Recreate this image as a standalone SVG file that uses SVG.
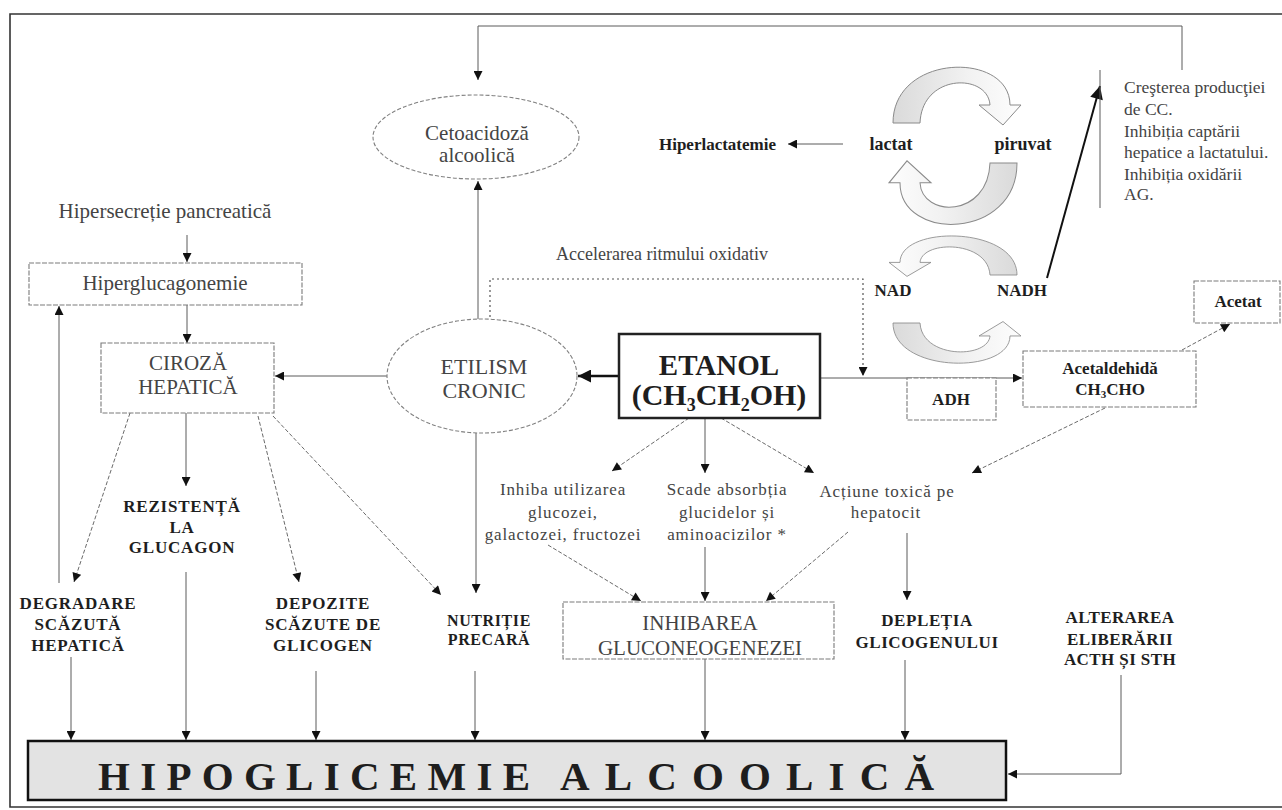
<svg xmlns="http://www.w3.org/2000/svg" width="1282" height="810" viewBox="0 0 1282 810">
<style>
.t{font-family:"Liberation Serif","Times New Roman",serif;fill:#444;text-anchor:middle}
.b{font-family:"Liberation Serif","Times New Roman",serif;font-weight:bold;fill:#1e1e1e;text-anchor:middle}
.bx{fill:#fff;stroke:#7a7a7a;stroke-width:1.1;stroke-dasharray:5 1.5}
.el{fill:#fff;stroke:#808080;stroke-width:1.1;stroke-dasharray:4 2}
.c{fill:none;stroke:#5a5a5a;stroke-width:1}
.cd{fill:none;stroke:#6a6a6a;stroke-width:1;stroke-dasharray:4 2}
.dot{fill:none;stroke:#555;stroke-width:1.2;stroke-dasharray:2 3}
.ca{fill:url(#g);stroke:#8a8a8a;stroke-width:1}
</style>
<defs>
<marker id="ah" viewBox="0 0 10 10" refX="10" refY="5" markerWidth="11" markerHeight="9" markerUnits="userSpaceOnUse" orient="auto"><path d="M0,0 L10,5 L0,10 z" fill="#111"/></marker>
<marker id="ahb" viewBox="0 0 10 10" refX="10" refY="5" markerWidth="16" markerHeight="13" markerUnits="userSpaceOnUse" orient="auto"><path d="M0,0 L10,5 L0,10 z" fill="#111"/></marker>
<linearGradient id="g" x1="0" y1="0" x2="1" y2="0"><stop offset="0" stop-color="#dadada"/><stop offset="0.6" stop-color="#f2f2f2"/><stop offset="1" stop-color="#fdfdfd"/></linearGradient>
<path id="carr" d="M-62,0 C-62,-70 55,-72 55,-18 L66,-18 L48,2 L24,-18 L35,-18 C33,-50 -33,-50 -35,0 Z"/>
</defs>
<rect width="1282" height="810" fill="#fff"/>
<path d="M1282,14 L10,14 L10,807 L1282,807" fill="none" stroke="#333" stroke-width="1.6"/>

<g id="connectors">
<polyline class="c" points="1182,70 1182,26 478,26 478,80" marker-end="url(#ah)"/>
<line class="c" x1="478" y1="320" x2="478" y2="181" marker-end="url(#ah)"/>
<line class="c" x1="187" y1="235" x2="187" y2="262" marker-end="url(#ah)"/>
<line class="c" x1="187" y1="305" x2="187" y2="343" marker-end="url(#ah)"/>
<line class="c" x1="388" y1="376" x2="275" y2="376" marker-end="url(#ah)"/>
<line x1="619" y1="376" x2="578" y2="376" stroke="#111" stroke-width="2.5" marker-end="url(#ahb)"/>
<line class="c" x1="820" y1="378" x2="1022" y2="378" marker-end="url(#ah)"/>
<polyline class="dot" points="490,322 490,279 863,279 863,376" marker-end="url(#ah)"/>
<line x1="1047" y1="278" x2="1100" y2="86" stroke="#111" stroke-width="2" marker-end="url(#ahb)"/>
<line class="c" x1="1100" y1="70" x2="1100" y2="208"/>
<line class="c" x1="843" y1="144" x2="788" y2="144" marker-end="url(#ah)"/>
<line class="cd" x1="1182" y1="350" x2="1230" y2="324" marker-end="url(#ah)"/>
<line class="cd" x1="1105" y1="408" x2="972" y2="473" marker-end="url(#ah)"/>
<line class="cd" x1="689" y1="418" x2="612" y2="471" marker-end="url(#ah)"/>
<line class="c" x1="705" y1="418" x2="705" y2="473" marker-end="url(#ah)"/>
<line class="cd" x1="721" y1="418" x2="814" y2="473" marker-end="url(#ah)"/>
<line class="cd" x1="548" y1="545" x2="641" y2="601" marker-end="url(#ah)"/>
<line class="c" x1="705" y1="547" x2="705" y2="601" marker-end="url(#ah)"/>
<line class="cd" x1="848" y1="532" x2="766" y2="601" marker-end="url(#ah)"/>
<line class="c" x1="907" y1="533" x2="907" y2="600" marker-end="url(#ah)"/>
<line class="c" x1="705" y1="659" x2="705" y2="740" marker-end="url(#ah)"/>
<line class="c" x1="905" y1="660" x2="905" y2="740" marker-end="url(#ah)"/>
<polyline class="c" points="1121,675 1121,774 1008,774" marker-end="url(#ah)"/>
<line class="c" x1="476" y1="433" x2="476" y2="593" marker-end="url(#ah)"/>
<line class="cd" x1="273" y1="416" x2="441" y2="595" marker-end="url(#ah)"/>
<line class="c" x1="186" y1="413" x2="186" y2="486" marker-end="url(#ah)"/>
<line class="cd" x1="130" y1="413" x2="74" y2="582" marker-end="url(#ah)"/>
<line class="cd" x1="258" y1="416" x2="299" y2="582" marker-end="url(#ah)"/>
<line class="c" x1="59" y1="583" x2="59" y2="306" marker-end="url(#ah)"/>
<line class="c" x1="71" y1="657" x2="71" y2="740" marker-end="url(#ah)"/>
<line class="c" x1="186" y1="572" x2="186" y2="740" marker-end="url(#ah)"/>
<line class="c" x1="316" y1="671" x2="316" y2="740" marker-end="url(#ah)"/>
<line class="c" x1="475" y1="671" x2="475" y2="740" marker-end="url(#ah)"/>
</g>

<g id="curved-arrows">
<use href="#carr" class="ca" transform="translate(955,123)"/>
<use href="#carr" class="ca" transform="translate(955,163) scale(-1,-1.1)"/>
<use href="#carr" class="ca" transform="translate(955,275) scale(-1,0.7)"/>
<use href="#carr" class="ca" transform="translate(955,323) scale(1,-0.72)"/>
</g>

<g id="cetoacidoza">
<ellipse class="el" cx="476" cy="137" rx="103" ry="42"/>
<text class="t" x="477" y="140" font-size="21">Cetoacidoză</text>
<text class="t" x="477" y="162" font-size="21">alcoolică</text>
</g>
<g id="hipersecretie"><text class="t" x="165" y="218" font-size="21">Hipersecreție pancreatică</text></g>
<g id="hiperglucagonemie">
<rect class="bx" x="29" y="263" width="273" height="42"/>
<text class="t" x="165" y="290" font-size="21">Hiperglucagonemie</text>
</g>
<g id="ciroza">
<rect class="bx" x="101" y="343" width="173" height="70"/>
<text class="t" x="188" y="370" font-size="21">CIROZĂ</text>
<text class="t" x="188" y="394" font-size="21">HEPATICĂ</text>
</g>
<g id="etilism">
<ellipse class="el" cx="482" cy="376" rx="95" ry="57"/>
<text class="t" x="484" y="374" font-size="22" fill="#555">ETILISM</text>
<text class="t" x="484" y="398" font-size="22" fill="#555">CRONIC</text>
</g>
<g id="accelerarea"><text class="t" x="662" y="260" font-size="18">Accelerarea ritmului oxidativ</text></g>
<g id="etanol">
<rect x="619" y="334" width="201" height="84" fill="#fff" stroke="#222" stroke-width="2.5"/>
<text class="b" x="719" y="375" font-size="29">ETANOL</text>
<text class="b" x="719" y="405" font-size="30">(CH<tspan font-size="18" dy="6">3</tspan><tspan dy="-6">CH</tspan><tspan font-size="18" dy="6">2</tspan><tspan dy="-6">OH)</tspan></text>
</g>
<g id="hiperlactatemie"><text class="b" x="776" y="150" font-size="17" style="text-anchor:end">Hiperlactatemie</text></g>
<g id="lactat"><text class="b" x="891" y="150" font-size="18">lactat</text></g>
<g id="piruvat"><text class="b" x="1023" y="150" font-size="18">piruvat</text></g>
<g id="nad"><text class="b" x="893" y="296" font-size="17">NAD</text></g>
<g id="nadh"><text class="b" x="1022" y="296" font-size="17">NADH</text></g>
<g id="crestere">
<text class="t" x="1124" y="93" font-size="17.5" style="text-anchor:start">Creşterea producţiei</text>
<text class="t" x="1124" y="115" font-size="17.5" style="text-anchor:start">de CC.</text>
<text class="t" x="1124" y="137" font-size="17.5" style="text-anchor:start">Inhibiția captării</text>
<text class="t" x="1124" y="158" font-size="17.5" style="text-anchor:start">hepatice a lactatului.</text>
<text class="t" x="1124" y="180" font-size="17.5" style="text-anchor:start">Inhibiția oxidării</text>
<text class="t" x="1124" y="200" font-size="17.5" style="text-anchor:start">AG.</text>
</g>
<g id="adh">
<rect class="bx" x="907" y="378" width="89" height="42"/>
<text class="b" x="951" y="405" font-size="17">ADH</text>
</g>
<g id="acetaldehida">
<rect class="bx" x="1023" y="351" width="173" height="56"/>
<text class="b" x="1110" y="374" font-size="17">Acetaldehidă</text>
<text class="b" x="1110" y="395" font-size="17">CH<tspan font-size="11" dy="3">3</tspan><tspan dy="-3">CHO</tspan></text>
</g>
<g id="acetat">
<rect class="bx" x="1194" y="281" width="86" height="42"/>
<text class="b" x="1238" y="307" font-size="17">Acetat</text>
</g>
<g id="inhiba">
<text class="t" x="563" y="495" font-size="17" letter-spacing="0.9">Inhiba utilizarea</text>
<text class="t" x="563" y="518" font-size="17" letter-spacing="0.9">glucozei,</text>
<text class="t" x="563" y="540" font-size="17" letter-spacing="0.9">galactozei, fructozei</text>
</g>
<g id="scade">
<text class="t" x="727" y="495" font-size="17" letter-spacing="0.9">Scade absorbția</text>
<text class="t" x="727" y="518" font-size="17" letter-spacing="0.9">glucidelor și</text>
<text class="t" x="727" y="540" font-size="17" letter-spacing="0.9">aminoacizilor *</text>
</g>
<g id="actiune">
<text class="t" x="887" y="497" font-size="17" letter-spacing="0.9">Acțiune toxică pe</text>
<text class="t" x="886" y="518" font-size="17" letter-spacing="0.9">hepatocit</text>
</g>
<g id="rezistenta">
<text class="b" x="182" y="512" font-size="17" letter-spacing="0.8">REZISTENȚĂ</text>
<text class="b" x="182" y="533" font-size="17" letter-spacing="0.8">LA</text>
<text class="b" x="182" y="553" font-size="17" letter-spacing="0.8">GLUCAGON</text>
</g>
<g id="degradare">
<text class="b" x="78" y="609" font-size="17" letter-spacing="0.8">DEGRADARE</text>
<text class="b" x="78" y="630" font-size="17" letter-spacing="0.8">SCĂZUTĂ</text>
<text class="b" x="78" y="651" font-size="17" letter-spacing="0.8">HEPATICĂ</text>
</g>
<g id="depozite">
<text class="b" x="323" y="609" font-size="17" letter-spacing="0.8">DEPOZITE</text>
<text class="b" x="323" y="630" font-size="17" letter-spacing="0.8">SCĂZUTE DE</text>
<text class="b" x="323" y="651" font-size="17" letter-spacing="0.8">GLICOGEN</text>
</g>
<g id="nutritie">
<text class="b" x="489" y="626" font-size="16" letter-spacing="0.6">NUTRIȚIE</text>
<text class="b" x="489" y="645" font-size="16" letter-spacing="0.6">PRECARĂ</text>
</g>
<g id="inhibarea">
<rect class="bx" x="563" y="602" width="271" height="57"/>
<text class="t" x="700" y="630" font-size="21" fill="#333">INHIBAREA</text>
<text class="t" x="700" y="655" font-size="21" fill="#333">GLUCONEOGENEZEI</text>
</g>
<g id="depletia">
<text class="b" x="927" y="626" font-size="17" letter-spacing="0.6">DEPLEȚIA</text>
<text class="b" x="927" y="648" font-size="17" letter-spacing="0.6">GLICOGENULUI</text>
</g>
<g id="alterarea">
<text class="b" x="1120" y="623" font-size="17" letter-spacing="0.4">ALTERAREA</text>
<text class="b" x="1120" y="645" font-size="17" letter-spacing="0.4">ELIBERĂRII</text>
<text class="b" x="1120" y="665" font-size="17" letter-spacing="0.4">ACTH ȘI STH</text>
</g>
<g id="hipoglicemie">
<rect x="28" y="741" width="978" height="59" fill="#e3e3e3" stroke="#111" stroke-width="2.5"/>
<text class="b" x="98" y="790" font-size="41" fill="#111" style="text-anchor:start" textLength="432" lengthAdjust="spacing">HIPOGLICEMIE</text>
<text class="b" x="560" y="790" font-size="41" fill="#111" style="text-anchor:start" textLength="374" lengthAdjust="spacing">ALCOOLICĂ</text>
</g>
</svg>
